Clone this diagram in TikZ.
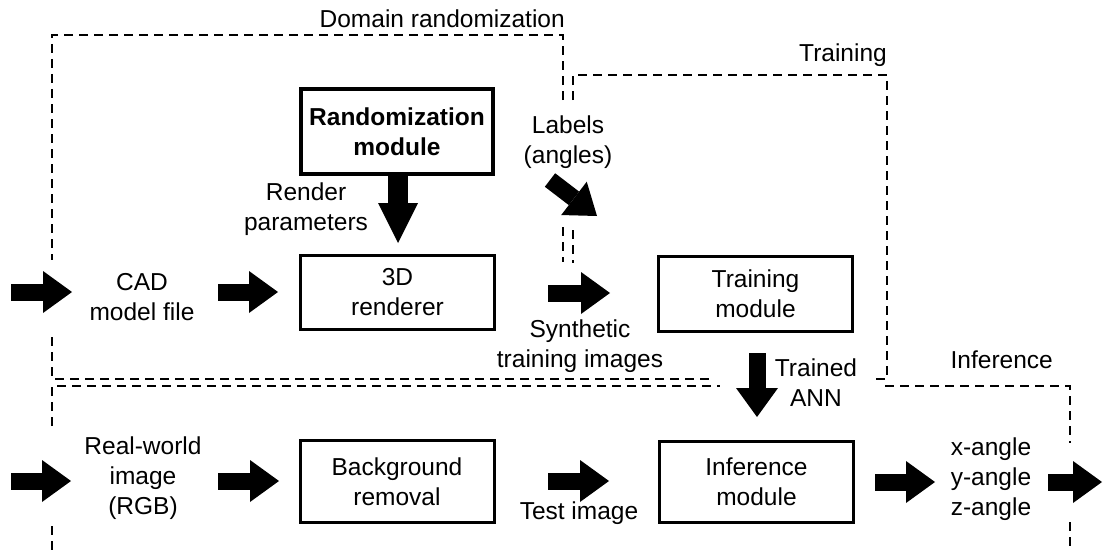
\documentclass[tikz,border=0pt]{standalone}
\usepackage{fontspec}
\setmainfont{Liberation Sans}
\usetikzlibrary{arrows.meta}
\newcommand\fs{\fontsize{24.5}{30}\selectfont}
\tikzset{
  box/.style={draw, line width=3pt, minimum width=194pt, minimum height=74pt, align=center, inner sep=0pt, font=\fs},
  lbl/.style={align=center, inner sep=0pt, font=\fs},
  region/.style={draw, line width=1.8pt, dash pattern=on 9pt off 6pt},
  blk/.style={line width=17pt, -{Triangle[width=42pt,length=29pt,line width=0pt]}},
}
\begin{document}
\begin{tikzpicture}[x=1pt,y=-1pt]
\useasboundingbox (0,0) rectangle (1103,551);
% boxes
\node[box, line width=3.6pt, minimum width=192pt, minimum height=85pt, font=\fs\bfseries] (rand) at (397,131.5) {Randomization\\module};
\node[box] (rend) at (397.5,292) {3D\\renderer};
\node[box, minimum height=75pt] (train) at (755.5,293.5) {Training\\module};
\node[box, minimum height=82pt] (bg) at (397,481.5) {Background\\removal};
\node[box, minimum height=81pt] (inf) at (756.5,482) {Inference\\module};
% labels
\node[lbl, anchor=base east] (tdom) at (565,28) {Domain randomization};
\node[lbl, anchor=base east] (ttrain) at (887,62) {Training};
\node[lbl, anchor=base east] (tinf) at (1053,368) {Inference};
\node[lbl] (labels) at (568,142) {Labels\\(angles)};
\node[lbl] (render) at (306,209) {Render\\parameters};
\node[lbl] (cad) at (142,297) {CAD\\model file};
\node[lbl] (synth) at (580,346) {Synthetic\\training images};
\node[lbl] (ann) at (816,383) {Trained\\ANN};
\node[lbl] (real) at (143,478) {Real-world\\image\\(RGB)};
\node[lbl] (angles) at (991,479) {x-angle\\y-angle\\z-angle};
\node[lbl, anchor=base] (test) at (579,519) {Test image};
% regions
\draw[region] (563,100) -- (563,35) -- (52,35) -- (52,260);
\draw[region] (52,337) -- (52,379) -- (713,379);
\draw[region] (563,227) -- (563,262);
\draw[region] (573,100) -- (573,75) -- (887,75) -- (887,379) -- (876,379);
\draw[region] (573,230) -- (573,263);
\draw[region] (52,426) -- (52,386) -- (720,386);
\draw[region] (52,526) -- (52,551);
\draw[region] (885,386) -- (1070,386) -- (1070,443);
\draw[region] (1070,522) -- (1070,551);
% arrow ends
\coordinate (i1s) at (11,292);   \coordinate (i1e) at (72,292);
\coordinate (c1s) at (218,292);  \coordinate (c1e) at (278,292);
\coordinate (s1s) at (548,293);  \coordinate (s1e) at (610,293);
\coordinate (r1s) at (398,173);  \coordinate (r1e) at (398,243);
\coordinate (l1s) at (550,180);  \coordinate (l1e) at (597,216);
\coordinate (t1s) at (757,353);  \coordinate (t1e) at (757,417);
\coordinate (i2s) at (11,481);   \coordinate (i2e) at (71,481);
\coordinate (b1s) at (218,481);  \coordinate (b1e) at (279,481);
\coordinate (x1s) at (548,481);  \coordinate (x1e) at (609,481);
\coordinate (o1s) at (875,482);  \coordinate (o1e) at (935,482);
\coordinate (o2s) at (1048,482); \coordinate (o2e) at (1102,482);
\draw[line width=20pt, -{Triangle[width=40pt,length=40pt,line width=0pt]}] (r1s) -- (r1e);
\foreach \a in {i1,c1,s1,l1,t1,i2,b1,x1,o1,o2}
  \draw[blk] (\a s) -- (\a e);
\end{tikzpicture}
\end{document}
